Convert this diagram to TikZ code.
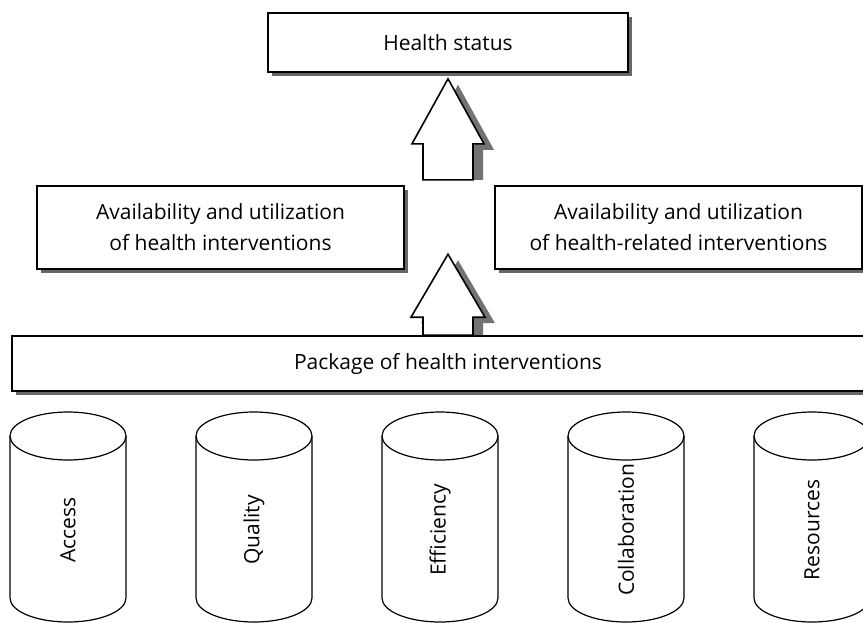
\documentclass[tikz,border=0pt]{standalone}
\usepackage{fontspec}
\setmainfont{Open Sans}
\usetikzlibrary{shadows}

\begin{document}
\begin{tikzpicture}[x=0.5pt,y=-0.5pt]
        \tikzstyle{every node}=[font=\fontsize{10.5}{15.5}\selectfont]
        \tikzstyle{box}=[draw,thick,fill=white,inner sep=0pt,align=center,
                drop shadow={shadow xshift=2pt,shadow yshift=-2pt,fill=black!60,opacity=1}]
        \tikzstyle{shade}=[fill=black!55]
        \tikzstyle{bigarrow}=[draw,thick,fill=white,line join=miter]
        \tikzstyle{pillar}=[draw,semithick]

        \useasboundingbox (0,0) rectangle (863,622);

        \node[box,minimum width=180pt,minimum height=29.5pt] (status) at (448,42.5) {Health status};
        \node[box,minimum width=183.5pt,minimum height=41.5pt] (hlth) at (220.5,227.5) {Availability and utilization\\of health interventions};
        \node[box,minimum width=183.5pt,minimum height=41.5pt] (rel) at (678.5,227.5) {Availability and utilization\\of health-related interventions};
        \node[box,minimum width=436pt,minimum height=27.5pt] (pkg) at (448,363.5) {Package of health interventions};

        % arrow up into the status box
        \coordinate (uptip) at ([yshift=-3pt]status.south);
        \fill[shade] ([shift={(10,6)}]uptip) -- ++(36,65) -- ++(-11,0) -- ++(0,30) -- ++(-50,0) -- ++(0,-30) -- ++(-11,0) -- cycle;
        \draw[bigarrow] (uptip) -- ++(36,65) -- ++(-11,0) -- ++(0,36) -- ++(-50,0) -- ++(0,-36) -- ++(-11,0) -- cycle;

        % arrow up out of the package box
        \coordinate (lowtip) at ([yshift=40.5pt]pkg.north);
        \fill[shade] ([shift={(10,6)}]lowtip) -- ++(37,63) -- ++(-12,0) -- ++(0,12) -- ++(-50,0) -- ++(0,-12) -- ++(-12,0) -- cycle;
        \draw[bigarrow] (lowtip) -- ++(37,63) -- ++(-12,0) -- ++(0,18) -- ++(-50,0) -- ++(0,-18) -- ++(-12,0) -- cycle;

        % the five pillars
        \foreach \name/\lab [count=\i from 0] in {acc/Access,qual/Quality,eff/Efficiency,coll/Collaboration,res/Resources} {
            \pgfmathsetmacro\cx{68+186*\i}
            \draw[pillar] (\cx-58,436) -- (\cx-58,598) arc[start angle=180,end angle=0,x radius=58,y radius=24] -- (\cx+58,436);
            \draw[pillar] (\cx,436) ellipse [x radius=58,y radius=24];
            \node[rotate=90] (\name) at (\cx,530) {\lab};
        };
\end{tikzpicture}
\end{document}
